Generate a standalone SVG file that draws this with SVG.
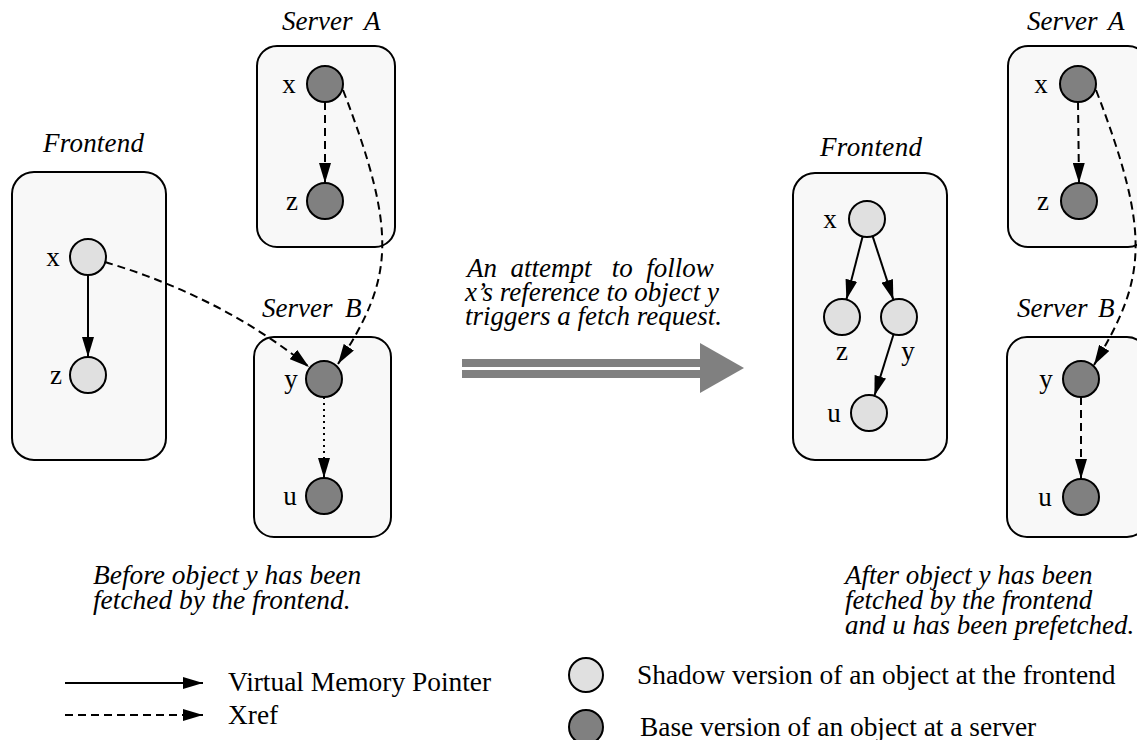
<svg xmlns="http://www.w3.org/2000/svg" width="1137" height="740" viewBox="0 0 1137 740">
<style>
.box{fill:#f8f8f8;stroke:#000;stroke-width:2}
.sh{fill:#e0e0e0;stroke:#000;stroke-width:2}
.bs{fill:#808080;stroke:#000;stroke-width:2}
.t{font-family:"Liberation Serif","Times New Roman",serif;font-size:27px;fill:#000}
.c{font-size:27.4px}
.i{font-style:italic}
.ptr{fill:none;stroke:#000;stroke-width:2;marker-end:url(#ah)}
.xr{fill:none;stroke:#000;stroke-width:2;stroke-dasharray:8 5;marker-end:url(#ah)}
.dt{fill:none;stroke:#000;stroke-width:2;stroke-dasharray:2 4;marker-end:url(#ah)}
</style>
<defs>
<marker id="ah" markerUnits="userSpaceOnUse" markerWidth="21" markerHeight="12" refX="20" refY="6" orient="auto">
<path d="M0,0 L20,6 L0,12 z" fill="#000"/>
</marker>
</defs>
<rect width="1137" height="740" fill="#fff"/>

<!-- left frontend -->
<g id="frontend-left">
<text class="t i" x="43" y="152" textLength="101">Frontend</text>
<rect class="box" x="12" y="172" width="154" height="288" rx="22"/>
</g>
<g id="fl-x"><circle class="sh" cx="88" cy="257" r="18"/><text class="t" x="53" y="266" text-anchor="middle">x</text></g>
<g id="fl-z"><circle class="sh" cx="88" cy="375" r="18"/><text class="t" x="56" y="384" text-anchor="middle">z</text></g>

<!-- left server A -->
<g id="serverA-left">
<text class="t i" x="282" y="30">Server</text><text class="t i" x="364" y="30">A</text>
<rect class="box" x="257" y="46" width="138" height="201" rx="20"/>
</g>
<g id="la-x"><circle class="bs" cx="325" cy="84" r="18"/><text class="t" x="289" y="93" text-anchor="middle">x</text></g>
<g id="la-z"><circle class="bs" cx="325" cy="201" r="18"/><text class="t" x="292" y="210" text-anchor="middle">z</text></g>

<!-- left server B -->
<g id="serverB-left">
<text class="t i" x="262" y="317">Server</text><text class="t i" x="345" y="317">B</text>
<rect class="box" x="254" y="337" width="137" height="200" rx="20"/>
</g>
<g id="lb-y"><circle class="bs" cx="324" cy="379" r="18"/><text class="t" x="291" y="388" text-anchor="middle">y</text></g>
<g id="lb-u"><circle class="bs" cx="324" cy="496" r="18"/><text class="t" x="290" y="505" text-anchor="middle">u</text></g>

<!-- right frontend -->
<g id="frontend-right">
<text class="t i" x="820" y="156" textLength="102">Frontend</text>
<rect class="box" x="793" y="173" width="154" height="287" rx="22"/>
</g>
<g id="fr-x"><circle class="sh" cx="867" cy="219" r="18"/><text class="t" x="830" y="228" text-anchor="middle">x</text></g>
<g id="fr-z"><circle class="sh" cx="842" cy="317" r="18"/><text class="t" x="842" y="360" text-anchor="middle">z</text></g>
<g id="fr-y"><circle class="sh" cx="899" cy="317" r="18"/><text class="t" x="908" y="360" text-anchor="middle">y</text></g>
<g id="fr-u"><circle class="sh" cx="869" cy="413" r="18"/><text class="t" x="834" y="422" text-anchor="middle">u</text></g>

<!-- right server A -->
<g id="serverA-right">
<text class="t i" x="1027" y="30">Server</text><text class="t i" x="1108" y="30">A</text>
<rect class="box" x="1008" y="46" width="140" height="201" rx="20"/>
</g>
<g id="ra-x"><circle class="bs" cx="1078" cy="84" r="18"/><text class="t" x="1041" y="93" text-anchor="middle">x</text></g>
<g id="ra-z"><circle class="bs" cx="1079" cy="201" r="18"/><text class="t" x="1043" y="210" text-anchor="middle">z</text></g>

<!-- right server B -->
<g id="serverB-right">
<text class="t i" x="1017" y="317">Server</text><text class="t i" x="1098" y="317">B</text>
<rect class="box" x="1007" y="337" width="140" height="200" rx="20"/>
</g>
<g id="rb-y"><circle class="bs" cx="1081" cy="379" r="18"/><text class="t" x="1046" y="388" text-anchor="middle">y</text></g>
<g id="rb-u"><circle class="bs" cx="1081" cy="497" r="18"/><text class="t" x="1045" y="506" text-anchor="middle">u</text></g>

<!-- connectors -->
<g id="connectors">
<line class="ptr" x1="88" y1="275" x2="88" y2="357"/>
<path class="xr" d="M105,262 Q222,297 309,367"/>
<line class="xr" x1="325" y1="102" x2="325" y2="183"/>
<path class="xr" d="M343,90 C400,238 392,280 338,364"/>
<line class="dt" x1="324" y1="397" x2="324" y2="478"/>

<line class="ptr" x1="862.6" y1="236.4" x2="846.4" y2="299.6"/>
<line class="ptr" x1="872.6" y1="236.1" x2="893.4" y2="299.9"/>
<line class="ptr" x1="893.6" y1="334.2" x2="874.4" y2="395.8"/>

<line class="xr" x1="1078" y1="102" x2="1079" y2="183"/>
<path class="xr" d="M1096,90 C1153,238 1145,280 1094,365"/>
<line class="xr" x1="1081" y1="397" x2="1081" y2="479"/>
</g>

<!-- big arrow -->
<g id="transition" fill="#808080">
<text class="t i" x="467" y="277" xml:space="preserve">An  attempt   to  follow</text>
<text class="t i" x="465" y="301">x’s reference to object y</text>
<text class="t i" x="465" y="325">triggers a fetch request.</text>
<rect x="462" y="359" width="240" height="8"/>
<rect x="462" y="370" width="240" height="8"/>
<polygon points="700,343 744,368 700,393"/>
</g>

<!-- captions -->
<g id="captions">
<text class="t c i" x="93" y="584">Before object y has been</text>
<text class="t c i" x="93" y="609">fetched by the frontend.</text>
<text class="t i" x="845" y="584">After object y has been</text>
<text class="t i" x="845" y="609">fetched by the frontend</text>
<text class="t i" x="845" y="634">and u has been prefetched.</text>
</g>

<!-- legend -->
<g id="legend">
<line class="ptr" x1="65" y1="683" x2="203" y2="683"/>
<line class="xr" x1="65" y1="715" x2="203" y2="715"/>
<text class="t c" x="228" y="691">Virtual Memory Pointer</text>
<text class="t c" x="228" y="724">Xref</text>
<circle class="sh" cx="586" cy="675" r="17"/>
<circle class="bs" cx="586" cy="727" r="17"/>
<text class="t c" x="637" y="684">Shadow version of an object at the frontend</text>
<text class="t c" x="640" y="736">Base version of an object at a server</text>
</g>
</svg>
